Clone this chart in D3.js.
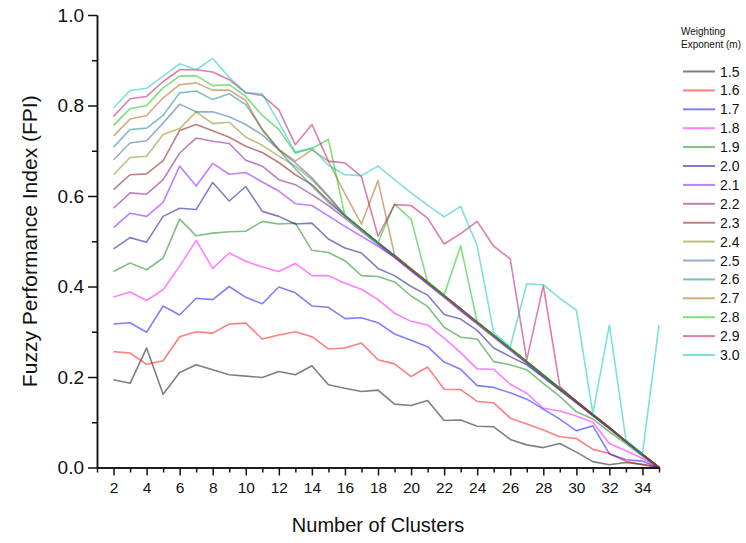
<!DOCTYPE html>
<html>
<head>
<meta charset="utf-8">
<script src="https://cdn.jsdelivr.net/npm/d3@7"></script>
<style>
  html, body { margin: 0; padding: 0; background: #fff; overflow: hidden; }
  svg { display: block; font-family: "Liberation Sans", Arial, sans-serif; }
  .axis path, .axis line { stroke: #111; stroke-width: 1.5; }
  .axis text { fill: #111; }
</style>
</head>
<body>
<script>
// number of clusters on the x axis
const clusters = [2, 3, 4, 5, 6, 7, 8, 9, 10, 11, 12, 13, 14, 15, 16, 17, 18,
  19, 20, 21, 22, 23, 24, 25, 26, 27, 28, 29, 30, 31, 32, 33, 34, 35]

const exponents = ['1.5', '1.6', '1.7', '1.8', '1.9', '2.0', '2.1', '2.2',
  '2.3', '2.4', '2.5', '2.6', '2.7', '2.8', '2.9', '3.0']

const colors = ['#000000', '#ff0000', '#0000ff', '#ff00ff', '#008000', '#000080',
  '#8000ff', '#800080', '#800000', '#808000', '#2a5c9e', '#008080',
  '#a05a00', '#00c000', '#b80060', '#00c0c0']

// FPI values, one array per weighting exponent
const fpi15 = [0.194, 0.186, 0.264, 0.162, 0.210, 0.227, 0.216, 0.205, 0.202, 0.199, 0.212, 0.205, 0.225, 0.183, 0.175, 0.168, 0.171,
  0.140, 0.137, 0.148, 0.104, 0.105, 0.091, 0.090, 0.062, 0.050, 0.044, 0.053, 0.034, 0.013, 0.006, 0.011, 0.007, 0.000]
const fpi16 = [0.256, 0.253, 0.228, 0.236, 0.289, 0.300, 0.297, 0.317, 0.319, 0.284, 0.293, 0.300, 0.289, 0.262, 0.264, 0.275, 0.238,
  0.229, 0.201, 0.222, 0.173, 0.172, 0.146, 0.143, 0.109, 0.096, 0.083, 0.068, 0.064, 0.040, 0.031, 0.014, 0.006, 0.000]
const fpi17 = [0.317, 0.320, 0.299, 0.357, 0.337, 0.374, 0.371, 0.400, 0.376, 0.362, 0.399, 0.386, 0.357, 0.354, 0.329, 0.331, 0.320,
  0.295, 0.281, 0.267, 0.233, 0.217, 0.181, 0.177, 0.165, 0.151, 0.129, 0.107, 0.081, 0.092, 0.030, 0.017, 0.014, 0.000]
const fpi18 = [0.377, 0.388, 0.369, 0.393, 0.445, 0.502, 0.440, 0.474, 0.456, 0.443, 0.433, 0.451, 0.424, 0.424, 0.407, 0.394, 0.371,
  0.341, 0.323, 0.315, 0.286, 0.254, 0.218, 0.217, 0.184, 0.164, 0.131, 0.125, 0.114, 0.100, 0.053, 0.037, 0.020, 0.000]
const fpi19 = [0.433, 0.452, 0.437, 0.463, 0.549, 0.512, 0.518, 0.521, 0.522, 0.544, 0.538, 0.540, 0.480, 0.475, 0.457, 0.424, 0.422,
  0.410, 0.379, 0.356, 0.310, 0.288, 0.284, 0.234, 0.227, 0.216, 0.186, 0.157, 0.123, 0.107, 0.079, 0.053, 0.025, 0.000]
const fpi20 = [0.483, 0.508, 0.498, 0.555, 0.573, 0.570, 0.630, 0.589, 0.621, 0.566, 0.555, 0.538, 0.540, 0.505, 0.485, 0.474, 0.440,
  0.424, 0.400, 0.381, 0.338, 0.328, 0.303, 0.264, 0.245, 0.227, 0.199, 0.171, 0.143, 0.114, 0.086, 0.057, 0.028, 0.000]
const fpi21 = [0.530, 0.562, 0.555, 0.586, 0.666, 0.622, 0.672, 0.648, 0.652, 0.631, 0.611, 0.583, 0.579, 0.556, 0.533, 0.511, 0.489,
  0.465, 0.434, 0.405, 0.376, 0.346, 0.317, 0.288, 0.259, 0.230, 0.201, 0.172, 0.144, 0.115, 0.086, 0.057, 0.028, 0.000]
const fpi22 = [0.573, 0.607, 0.604, 0.636, 0.695, 0.728, 0.721, 0.716, 0.679, 0.666, 0.636, 0.625, 0.603, 0.579, 0.551, 0.522, 0.493,
  0.464, 0.436, 0.407, 0.378, 0.348, 0.319, 0.290, 0.261, 0.232, 0.203, 0.174, 0.145, 0.116, 0.087, 0.058, 0.029, 0.000]
const fpi23 = [0.614, 0.647, 0.649, 0.678, 0.745, 0.758, 0.744, 0.730, 0.710, 0.696, 0.674, 0.647, 0.625, 0.590, 0.556, 0.527, 0.497,
  0.468, 0.439, 0.410, 0.380, 0.351, 0.321, 0.292, 0.263, 0.234, 0.204, 0.175, 0.146, 0.117, 0.088, 0.058, 0.029, 0.000]
const fpi24 = [0.647, 0.685, 0.688, 0.736, 0.749, 0.786, 0.760, 0.763, 0.730, 0.712, 0.688, 0.666, 0.636, 0.598, 0.558, 0.527, 0.497,
  0.468, 0.439, 0.410, 0.381, 0.351, 0.322, 0.292, 0.263, 0.234, 0.205, 0.175, 0.146, 0.117, 0.088, 0.058, 0.029, 0.000]
const fpi25 = [0.680, 0.717, 0.722, 0.761, 0.803, 0.786, 0.786, 0.775, 0.758, 0.735, 0.702, 0.673, 0.640, 0.600, 0.557, 0.527, 0.497,
  0.468, 0.438, 0.409, 0.380, 0.350, 0.321, 0.292, 0.263, 0.234, 0.204, 0.175, 0.146, 0.117, 0.088, 0.058, 0.029, 0.000]
const fpi26 = [0.708, 0.747, 0.750, 0.778, 0.828, 0.832, 0.813, 0.826, 0.802, 0.748, 0.702, 0.660, 0.622, 0.586, 0.556, 0.526, 0.496,
  0.467, 0.438, 0.409, 0.380, 0.350, 0.321, 0.292, 0.263, 0.234, 0.204, 0.175, 0.146, 0.117, 0.088, 0.058, 0.029, 0.000]
const fpi27 = [0.733, 0.770, 0.778, 0.817, 0.846, 0.850, 0.834, 0.834, 0.811, 0.745, 0.703, 0.677, 0.702, 0.677, 0.605, 0.538, 0.634,
  0.470, 0.439, 0.409, 0.380, 0.350, 0.321, 0.292, 0.263, 0.234, 0.204, 0.175, 0.146, 0.117, 0.088, 0.058, 0.029, 0.000]
const fpi28 = [0.756, 0.793, 0.800, 0.839, 0.865, 0.866, 0.844, 0.846, 0.820, 0.778, 0.747, 0.695, 0.705, 0.725, 0.556, 0.526, 0.497,
  0.582, 0.549, 0.410, 0.381, 0.490, 0.322, 0.292, 0.263, 0.234, 0.204, 0.175, 0.146, 0.117, 0.088, 0.058, 0.029, 0.000]
const fpi29 = [0.776, 0.815, 0.820, 0.853, 0.879, 0.879, 0.874, 0.857, 0.828, 0.822, 0.791, 0.713, 0.758, 0.677, 0.673, 0.643, 0.511,
  0.581, 0.579, 0.551, 0.494, 0.517, 0.544, 0.489, 0.461, 0.238, 0.402, 0.179, 0.146, 0.117, 0.088, 0.058, 0.029, 0.000]
const fpi30 = [0.795, 0.833, 0.838, 0.865, 0.892, 0.879, 0.904, 0.862, 0.828, 0.826, 0.762, 0.697, 0.706, 0.668, 0.647, 0.645, 0.666,
  0.636, 0.607, 0.580, 0.554, 0.577, 0.490, 0.298, 0.267, 0.406, 0.404, 0.374, 0.348, 0.119, 0.315, 0.061, 0.030, 0.315]

const yMajor = [0, 0.2, 0.4, 0.6, 0.8, 1.0]
const yMinor = [0.1, 0.3, 0.5, 0.7, 0.9]
const xMajor = [2, 4, 6, 8, 10, 12, 14, 16, 18, 20, 22, 24, 26, 28, 30, 32, 34]
const xMinor = [1, 3, 5, 7, 9, 11, 13, 15, 17, 19, 21, 23, 25, 27, 29, 31, 33, 35]

const values = [fpi15, fpi16, fpi17, fpi18, fpi19, fpi20, fpi21, fpi22,
  fpi23, fpi24, fpi25, fpi26, fpi27, fpi28, fpi29, fpi30]

const series = exponents.map((m, i) => ({
  m: m,
  color: colors[i],
  points: clusters.map((c, j) => ({ x: c, y: values[i][j] }))
}))

const outerWidth = 746
const outerHeight = 543
const margin = { left: 97, top: 15, right: 87, bottom: 75.5 }
const innerWidth = outerWidth - margin.left - margin.right
const innerHeight = outerHeight - margin.top - margin.bottom

const svg = d3.select('body').append('svg')
  .attr('width', outerWidth)
  .attr('height', outerHeight)

const g = svg.append('g')
  .attr('transform', 'translate(' + margin.left + ',' + margin.top + ')')

const xScale = d3.scaleLinear().domain([1, 35]).range([0, innerWidth])
const yScale = d3.scaleLinear().domain([0, 1]).range([innerHeight, 0])

// lines
const line = d3.line().x(d => xScale(d.x)).y(d => yScale(d.y))

g.selectAll('.series')
  .data(series)
  .enter()
  .append('path')
  .attr('class', 'series')
  .attr('d', d => line(d.points))
  .attr('fill', 'none')
  .attr('stroke', d => d.color)
  .attr('stroke-opacity', 0.5)
  .attr('stroke-width', 1.6)
  .attr('stroke-linejoin', 'round')

// axes (minor ticks drawn without labels)
g.append('g')
  .attr('class', 'axis')
  .attr('transform', 'translate(0,' + innerHeight + ')')
  .call(d3.axisBottom(xScale).tickValues(xMinor).tickSize(5).tickSizeOuter(0))
  .call(a => a.selectAll('text').remove())

g.append('g')
  .attr('class', 'axis axis--x')
  .attr('transform', 'translate(0,' + innerHeight + ')')
  .call(d3.axisBottom(xScale).tickValues(xMajor).tickSize(8).tickSizeOuter(0).tickPadding(6))
  .selectAll('text')
  .style('font-size', '15.5px')

g.append('g')
  .attr('class', 'axis')
  .call(d3.axisLeft(yScale).tickValues(yMinor).tickSize(5).tickSizeOuter(0))
  .call(a => a.selectAll('text').remove())

g.append('g')
  .attr('class', 'axis axis--y')
  .call(d3.axisLeft(yScale).tickValues(yMajor).tickSize(9).tickSizeOuter(0).tickPadding(4).tickFormat(d3.format('.1f')))
  .selectAll('text')
  .style('font-size', '19px')

// axis titles
svg.append('text')
  .attr('transform', 'translate(30,' + (margin.top + innerHeight / 2) + ') rotate(-90)')
  .attr('text-anchor', 'middle')
  .attr('dy', '0.35em')
  .style('font-size', '21px')
  .attr('fill', '#111')
  .text('Fuzzy Performance Index (FPI)')

svg.append('text')
  .attr('x', margin.left + innerWidth / 2)
  .attr('y', 532)
  .attr('text-anchor', 'middle')
  .style('font-size', '20px')
  .attr('fill', '#111')
  .text('Number of Clusters')

// legend
const legend = svg.append('g').attr('transform', 'translate(681,0)')

legend.append('text').attr('x', 0).attr('y', 35).style('font-size', '10px').attr('fill', '#111').text('Weighting')
legend.append('text').attr('x', 0).attr('y', 48).style('font-size', '10px').attr('fill', '#111').text('Exponent (m)')

const item = legend.selectAll('.item')
  .data(series)
  .enter()
  .append('g')
  .attr('class', 'item')
  .attr('transform', (d, i) => 'translate(0,' + (71.5 + i * 18.9) + ')')

item.append('line')
  .attr('x1', 2).attr('x2', 34)
  .attr('stroke', d => d.color)
  .attr('stroke-opacity', 0.5)
  .attr('stroke-width', 2)

item.append('text')
  .attr('x', 39)
  .attr('dy', '0.36em')
  .style('font-size', '14px')
  .attr('fill', '#111')
  .text(d => d.m)
</script>
</body>
</html>
